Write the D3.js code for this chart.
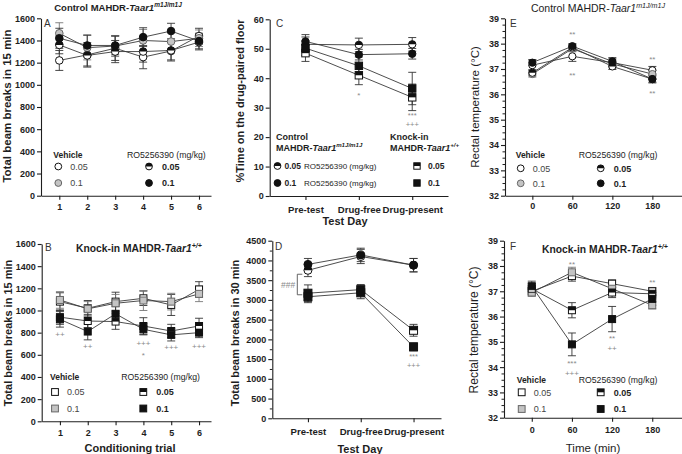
<!DOCTYPE html>
<html><head><meta charset="utf-8">
<script src="https://cdn.jsdelivr.net/npm/d3@7"></script>
<style>body{margin:0;background:#fff}</style>
</head><body><svg id="c" width="682" height="454"></svg>
<script>
// ---------- DATA ----------
const trials = [1,2,3,4,5,6];
const testDays = ["Pre-test","Drug-free","Drug-present"];
const timePoints = [0,60,120,180];

// Panel A – control, beam breaks in 15 min
const aVeh005 = [1220,1270,1330,1250,1305,1440];
const aVeh01  = [1465,1335,1350,1400,1390,1420];
const aRO005  = [1360,1265,1300,1300,1310,1385];
const aRO01   = [1420,1355,1355,1430,1485,1395];
const aVeh005Err = [90,110,110,105,90,70];
const aVeh01Err  = [95,110,95,100,80,75];
const aRO005Err  = [80,95,100,95,85,70];
const aRO01Err   = [90,95,85,85,70,70];

// Panel B – knock-in, beam breaks in 15 min
const bVeh005 = [1080,1020,1080,1110,1050,1190];
const bVeh01  = [1095,1015,1065,1090,1080,1150];
const bRO005  = [940,905,900,860,815,860];
const bRO01   = [920,810,970,830,780,800];
const bVeh005Err = [80,70,85,65,95,70];
const bVeh01Err  = [75,65,80,90,75,70];
const bRO005Err  = [65,60,70,75,60,70];
const bRO01Err   = [70,75,65,50,55,45];

// Panel C – % time on drug-paired floor
const cCtl005 = [51.5,51.3,51.5];
const cCtl01  = [52.5,48.0,48.3];
const cKI005  = [48.5,41.0,33.5];
const cKI01   = [50.2,44.2,36.5];
const cCtl005Err = [2.5,2.3,2.3];
const cCtl01Err  = [2.3,1.8,1.8];
const cKI005Err  = [2.8,3.2,4.5];
const cKI01Err   = [2.5,3.0,5.5];

// Panel D – beam breaks in 30 min
const dCtl005 = [3750,4100,3880];
const dCtl01  = [3900,4140,3880];
const dKI005  = [3170,3260,2230];
const dKI01   = [3080,3180,1810];
const dCtl005Err = [160,180,170];
const dCtl01Err  = [150,170,170];
const dKI005Err  = [210,130,150];
const dKI01Err   = [150,150,100];

// Panel E – control rectal temperature
const eVeh005 = [37.15,37.5,37.25,36.95];
const eVeh01  = [36.8,37.8,37.2,36.8];
const eRO005  = [36.85,37.85,37.1,36.6];
const eRO01   = [37.25,37.9,37.3,36.6];
const eVeh005Err = [0.2,0.2,0.15,0.15];
const eVeh01Err  = [0.12,0.12,0.15,0.15];
const eRO005Err  = [0.12,0.12,0.12,0.15];
const eRO01Err   = [0.12,0.1,0.15,0.12];

// Panel F – knock-in rectal temperature
const fVeh005 = [37.0,37.6,37.3,37.0];
const fVeh01  = [36.95,37.75,37.1,36.45];
const fRO005  = [37.1,36.25,36.95,36.9];
const fRO01   = [37.2,34.9,35.9,36.7];
const fVeh005Err = [0.15,0.2,0.15,0.15];
const fVeh01Err  = [0.15,0.2,0.15,0.15];
const fRO005Err  = [0.2,0.3,0.2,0.2];
const fRO01Err   = [0.2,0.45,0.5,0.25];

const yTicksBeam15 = [0,200,400,600,800,1000,1200,1400,1600];
const yTicksPct = [0,10,20,30,40,50,60];
const yTicksBeam30 = [0,500,1000,1500,2000,2500,3000,3500,4000,4500];
const yTicksTemp = [32,33,34,35,36,37,38,39];

// ---------- HELPERS ----------
const FONT = '"Liberation Sans", Arial, Helvetica, sans-serif';
const svg = d3.select('#c').style('font-family', FONT);
const INK = '#1e1e1e';
const ANN = '#8a8a8a';
const plain = d => String(d);

function txt(g, x, y, s, o = {}) {
  return g.append('text').attr('x', x).attr('y', y).text(s)
    .attr('font-size', o.size || 10).attr('font-weight', o.bold ? 'bold' : 'normal')
    .attr('fill', o.fill || INK).attr('text-anchor', o.anchor || 'start')
    .attr('font-family', FONT);
}
function richTitle(g, x, y, pre, ital, sup, o = {}) {
  const t = g.append('text').attr('x', x).attr('y', y)
    .attr('font-size', o.size || 10).attr('font-weight', o.bold ? 'bold' : 'normal')
    .attr('fill', INK).attr('text-anchor', o.anchor || 'start').attr('font-family', FONT);
  t.append('tspan').text(pre);
  t.append('tspan').attr('font-style', 'italic').text(ital);
  t.append('tspan').attr('font-style', 'italic').attr('font-size', (o.size || 10) * 0.68)
    .attr('dy', -(o.size || 10) * 0.38).text(sup);
  return t;
}
function marker(g, shape, fill, cx, cy, s) {
  const col = fill === 'black' ? '#111' : fill === 'gray' ? '#c4c4c4' : '#fff';
  const stroke = fill === 'gray' ? '#666' : '#111';
  if (shape === 'circle') {
    g.append('circle').attr('cx', cx).attr('cy', cy).attr('r', s)
      .attr('fill', col).attr('stroke', stroke).attr('stroke-width', 1);
    if (fill === 'half') g.append('path')
      .attr('d', `M${cx - s},${cy} A${s},${s} 0 0 1 ${cx + s},${cy} Z`).attr('fill', '#111');
  } else {
    g.append('rect').attr('x', cx - s).attr('y', cy - s).attr('width', 2 * s).attr('height', 2 * s)
      .attr('fill', col).attr('stroke', stroke).attr('stroke-width', 1);
    if (fill === 'half') g.append('rect').attr('x', cx - s).attr('y', cy - s)
      .attr('width', 2 * s).attr('height', s).attr('fill', '#111');
  }
}
function yAxis(g, y, x0, ticks, minor, o = {}) {
  const ax = g.append('g').attr('transform', `translate(${x0},0)`)
    .call(d3.axisLeft(y).tickValues(ticks).tickFormat(plain).tickSize(4).tickSizeOuter(0).tickPadding(2));
  ax.selectAll('text').attr('font-size', o.size || 9).attr('font-weight', 'bold')
    .attr('fill', INK).attr('font-family', FONT);
  ax.selectAll('line,path').attr('stroke', INK).attr('stroke-width', 1.1);
  if (minor) {
    const m = g.append('g').attr('transform', `translate(${x0},0)`)
      .call(d3.axisLeft(y).tickValues(minor).tickSize(2.5).tickFormat(''));
    m.select('.domain').remove();
    m.selectAll('line').attr('stroke', INK);
  }
}
function xAxis(g, x, y0, ticks, fmt, pad, o = {}) {
  const a = d3.axisBottom(x).tickValues(ticks).tickFormat(fmt || plain)
    .tickSize(4).tickSizeOuter(0).tickPadding(pad);
  const ax = g.append('g').attr('transform', `translate(0,${y0})`).call(a);
  ax.selectAll('text').attr('font-size', o.size || 9).attr('font-weight', 'bold')
    .attr('fill', INK).attr('font-family', FONT);
  ax.selectAll('line,path').attr('stroke', INK).attr('stroke-width', 1.1);
}
function yLabel(g, x, y, s, size, bold) {
  g.append('text').attr('transform', `translate(${x},${y}) rotate(-90)`)
    .attr('text-anchor', 'middle').attr('font-size', size).attr('font-weight', bold ? 'bold' : 'normal')
    .attr('fill', INK).attr('font-family', FONT).text(s);
}
function drawSeries(g, x, y, xv, list, R) {
  const line = d3.line().x((d, i) => x(xv[i])).y(d => y(d));
  list.forEach(s => g.append('path').datum(s.v).attr('d', line)
    .attr('fill', 'none').attr('stroke', '#3a3a3a').attr('stroke-width', 0.9));
  list.forEach(s => s.v.forEach((d, i) => {
    const cx = x(xv[i]), e = s.e[i], c = s.fill === 'gray' ? '#777' : '#333';
    g.append('line').attr('x1', cx).attr('x2', cx).attr('y1', y(d - e)).attr('y2', y(d + e))
      .attr('stroke', c).attr('stroke-width', 0.9);
    [d - e, d + e].forEach(v => g.append('line').attr('x1', cx - 4).attr('x2', cx + 4)
      .attr('y1', y(v)).attr('y2', y(v)).attr('stroke', c).attr('stroke-width', 0.9));
  }));
  list.forEach(s => s.v.forEach((d, i) => marker(g, s.shape, s.fill, x(xv[i]), y(d), R)));
}
function annot(g, x, yc, s, size = 8) {
  const off = s.includes('*') ? size * 0.62 : size * 0.3;
  txt(g, x, yc + off, s, { size, fill: ANN, anchor: 'middle' });
}
// stacked marks (upper, lower) kept far enough apart that their boxes do not touch
function annot2(g, x, yc1, s1, yc2, s2, size = 7.5) {
  const o1 = s1.includes('*') ? size * 0.62 : size * 0.3;
  const o2 = s2.includes('*') ? size * 0.62 : size * 0.3;
  let b1 = yc1 + o1, b2 = yc2 + o2;
  const gap = size * 1.2;
  if (b2 - b1 < gap) { const mid = (b1 + b2) / 2; b1 = mid - gap / 2; b2 = mid + gap / 2; }
  txt(g, x, b1, s1, { size, fill: ANN, anchor: 'middle' });
  txt(g, x, b2, s2, { size, fill: ANN, anchor: 'middle' });
}
function legend4(g, shape, x1, x2, yHead, yRow1, yRow2) {
  txt(g, x1 - 5, yHead + 3.2, 'Vehicle', { size: 8.5, bold: true });
  marker(g, shape, 'white', x1, yRow1, 3.4);
  txt(g, x1 + 12, yRow1 + 3.4, '0.05', { size: 9, fill: '#444' });
  marker(g, shape, 'gray', x1, yRow2, 3.4);
  txt(g, x1 + 12, yRow2 + 3.4, '0.1', { size: 9, fill: '#444' });
  txt(g, x2 - 22, yHead + 3.2, 'RO5256390 (mg/kg)', { size: 8.7 });
  marker(g, shape, 'half', x2, yRow1, 3.4);
  txt(g, x2 + 13, yRow1 + 3.4, '0.05', { size: 9, bold: true });
  marker(g, shape, 'black', x2, yRow2, 3.4);
  txt(g, x2 + 13, yRow2 + 3.4, '0.1', { size: 9, bold: true });
}

// ---------- PANEL A ----------
{
  const g = svg.append('g');
  const x = d3.scaleLinear().domain([0.345, 6.43]).range([41, 211]);
  const y = d3.scaleLinear().domain([0, 1600]).range([195.7, 18.3]);
  yAxis(g, y, 41, yTicksBeam15);
  xAxis(g, x, 195.7, trials, null, 4);
  yLabel(g, 11, 106, 'Total beam breaks in 15 min', 11.5, true);
  richTitle(g, 118, 11, 'Control MAHDR-', 'Taar1', 'm1J/m1J', { size: 9.5, bold: true, anchor: 'middle' });
  txt(g, 44, 27, 'A', { size: 10, fill: '#333' });
  drawSeries(g, x, y, trials, [
    { v: aVeh005, e: aVeh005Err, shape: 'circle', fill: 'white' },
    { v: aVeh01, e: aVeh01Err, shape: 'circle', fill: 'gray' },
    { v: aRO005, e: aRO005Err, shape: 'circle', fill: 'half' },
    { v: aRO01, e: aRO01Err, shape: 'circle', fill: 'black' }], 3.8);
  legend4(g, 'circle', 58.3, 149, 155, 166.5, 183);
}
// ---------- PANEL B ----------
{
  const g = svg.append('g');
  const x = d3.scaleLinear().domain([0.345, 6.43]).range([41.7, 211]);
  const y = d3.scaleLinear().domain([0, 1600]).range([421.3, 244]);
  yAxis(g, y, 41.7, yTicksBeam15);
  xAxis(g, x, 421.3, trials, null, 4);
  yLabel(g, 12, 333, 'Total beam breaks in 15 min', 11, true);
  txt(g, 130, 452, 'Conditioning trial', { size: 11, bold: true, anchor: 'middle' });
  richTitle(g, 76, 252, 'Knock-in MAHDR-', 'Taar1', '+/+', { size: 10.3, bold: true });
  txt(g, 45, 251, 'B', { size: 10, fill: '#333' });
  drawSeries(g, x, y, trials, [
    { v: bVeh005, e: bVeh005Err, shape: 'square', fill: 'white' },
    { v: bVeh01, e: bVeh01Err, shape: 'square', fill: 'gray' },
    { v: bRO005, e: bRO005Err, shape: 'square', fill: 'half' },
    { v: bRO01, e: bRO01Err, shape: 'square', fill: 'black' }], 3.5);
  annot(g, x(1), 335, '++'); annot(g, x(2), 347, '++');
  annot2(g, x(4), 344, '+++', 353, '*', 8);
  annot(g, x(5), 348, '+++'); annot(g, x(6), 347, '+++');
  legend4(g, 'square', 55, 143.3, 376.7, 392, 408.5);
}
// ---------- PANEL C ----------
{
  const g = svg.append('g');
  const xi = [0, 1, 2];
  const x = d3.scaleLinear().domain([-0.67, 2.67]).range([269.7, 448]);
  const y = d3.scaleLinear().domain([0, 60]).range([196, 19.3]);
  yAxis(g, y, 269.7, yTicksPct);
  xAxis(g, x, 196, xi, i => testDays[i], 6, { size: 9.6 });
  yLabel(g, 244, 101, '%Time on the drug-paired floor', 11, true);
  txt(g, 345, 225, 'Test Day', { size: 11, bold: true, anchor: 'middle' });
  txt(g, 276, 27, 'C', { size: 10, fill: '#333' });
  drawSeries(g, x, y, xi, [
    { v: cCtl005, e: cCtl005Err, shape: 'circle', fill: 'half' },
    { v: cCtl01, e: cCtl01Err, shape: 'circle', fill: 'black' },
    { v: cKI005, e: cKI005Err, shape: 'square', fill: 'half' },
    { v: cKI01, e: cKI01Err, shape: 'square', fill: 'black' }], 3.7);
  annot(g, x(1), 93, '*');
  annot2(g, x(2), 115, '***', 124, '+++');
  // legend
  txt(g, 276, 139.5, 'Control', { size: 9, bold: true });
  richTitle(g, 276, 150.5, 'MAHDR-', 'Taar1', 'm1J/m1J', { size: 9, bold: true });
  txt(g, 390, 139.5, 'Knock-in', { size: 9, bold: true });
  richTitle(g, 390, 150.5, 'MAHDR-', 'Taar1', '+/+', { size: 9, bold: true });
  [[166, 'half', '0.05'], [183, 'black', '0.1']].forEach(([ry, f, lab]) => {
    marker(g, 'circle', f, 277.5, ry, 3.4);
    txt(g, 284.5, ry + 3.3, lab, { size: 8.5, bold: true });
    txt(g, 304, ry + 3.2, 'RO5256390 (mg/kg)', { size: 8 });
    marker(g, 'square', f, 417, ry, 3.2);
    txt(g, 428, ry + 3.3, lab, { size: 8.5, bold: true });
  });
}
// ---------- PANEL D ----------
{
  const g = svg.append('g');
  const xi = [0, 1, 2];
  const x = d3.scaleLinear().domain([-0.675, 2.52]).range([272.3, 441]);
  const y = d3.scaleLinear().domain([0, 4500]).range([418.3, 240.7]);
  yAxis(g, y, 272.3, yTicksBeam30, d3.range(250, 4500, 500));
  xAxis(g, x, 418.3, xi, i => testDays[i], 6, { size: 9.6 });
  yLabel(g, 239, 333, 'Total beam breaks in 30 min', 11, true);
  txt(g, 360, 453, 'Test Day', { size: 11, bold: true, anchor: 'middle' });
  txt(g, 275, 249.5, 'D', { size: 10, fill: '#333' });
  drawSeries(g, x, y, xi, [
    { v: dCtl005, e: dCtl005Err, shape: 'circle', fill: 'half' },
    { v: dCtl01, e: dCtl01Err, shape: 'circle', fill: 'black' },
    { v: dKI005, e: dKI005Err, shape: 'square', fill: 'half' },
    { v: dKI01, e: dKI01Err, shape: 'square', fill: 'black' }], 4);
  annot(g, x(1), 249, '*');
  annot2(g, x(2), 356, '***', 364.5, '+++');
  // ### bracket between groups at pre-test
  const bx = 297.3, bt = y(3650), bb = y(3130);
  g.append('path').attr('d', `M${bx + 5},${bt}H${bx}V${bb}H${bx + 5}`)
    .attr('fill', 'none').attr('stroke', '#555').attr('stroke-width', 0.9);
  txt(g, bx - 2, (bt + bb) / 2 + 3.2, '###', { size: 8.5, fill: ANN, anchor: 'end' });
}
// ---------- PANEL E ----------
{
  const g = svg.append('g');
  const x = d3.scaleLinear().domain([-41, 224]).range([505, 681.7]);
  const y = d3.scaleLinear().domain([32, 39]).range([195.7, 18.3]);
  yAxis(g, y, 505, yTicksTemp, d3.range(32.25, 39, 0.25).filter(v => v % 1 !== 0));
  xAxis(g, x, 195.7, timePoints, null, 3);
  yLabel(g, 479, 107, 'Rectal temperature (°C)', 11.5, false);
  richTitle(g, 598, 12, 'Control MAHDR-', 'Taar1', 'm1J/m1J', { size: 10.5, anchor: 'middle' });
  txt(g, 510, 27, 'E', { size: 10, fill: '#333' });
  drawSeries(g, x, y, timePoints, [
    { v: eVeh005, e: eVeh005Err, shape: 'circle', fill: 'white' },
    { v: eVeh01, e: eVeh01Err, shape: 'circle', fill: 'gray' },
    { v: eRO005, e: eRO005Err, shape: 'circle', fill: 'half' },
    { v: eRO01, e: eRO01Err, shape: 'circle', fill: 'black' }], 3.6);
  annot(g, x(60), 32, '**'); annot(g, x(60), 73.5, '**');
  annot(g, x(180), 57.5, '**'); annot(g, x(180), 91, '**');
  legend4(g, 'circle', 520.7, 600.7, 155, 168.3, 183.3);
}
// ---------- PANEL F ----------
{
  const g = svg.append('g');
  const x = d3.scaleLinear().domain([-41.5, 224]).range([504, 681.7]);
  const y = d3.scaleLinear().domain([32, 39]).range([417.7, 240.7]);
  yAxis(g, y, 504, yTicksTemp, d3.range(32.25, 39, 0.25).filter(v => v % 1 !== 0));
  xAxis(g, x, 417.7, timePoints, null, 5);
  yLabel(g, 478, 330, 'Rectal temperature (°C)', 12, false);
  txt(g, 593, 452, 'Time (min)', { size: 11.5, anchor: 'middle' });
  richTitle(g, 542, 253, 'Knock-in MAHDR-', 'Taar1', '+/+', { size: 10.3, bold: true });
  txt(g, 510, 249.5, 'F', { size: 10, fill: '#333' });
  drawSeries(g, x, y, timePoints, [
    { v: fVeh005, e: fVeh005Err, shape: 'square', fill: 'white' },
    { v: fVeh01, e: fVeh01Err, shape: 'square', fill: 'gray' },
    { v: fRO005, e: fRO005Err, shape: 'square', fill: 'half' },
    { v: fRO01, e: fRO01Err, shape: 'square', fill: 'black' }], 3.5);
  annot(g, x(60), 262, '**');
  annot2(g, x(60), 362, '***', 373, '+++', 8);
  annot2(g, x(120), 337, '**', 347.5, '++', 8);
  annot(g, x(180), 280, '**');
  legend4(g, 'square', 521.7, 600.7, 379.3, 392.3, 409);
}
</script></body></html>
